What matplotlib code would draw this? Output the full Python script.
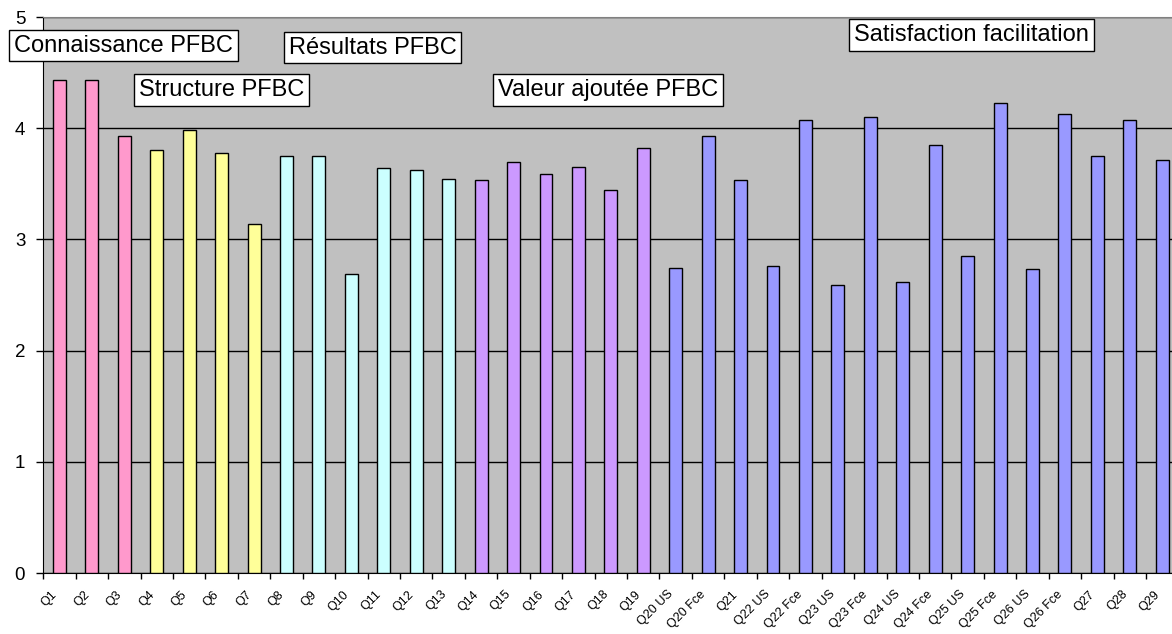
import matplotlib.pyplot as plt
import numpy as np

plt.rcParams['font.family'] = ['Liberation Sans', 'DejaVu Sans']

# questions and mean scores
questions = ['Q1', 'Q2', 'Q3', 'Q4', 'Q5', 'Q6', 'Q7', 'Q8', 'Q9', 'Q10',
             'Q11', 'Q12', 'Q13', 'Q14', 'Q15', 'Q16', 'Q17', 'Q18', 'Q19',
             'Q20 US', 'Q20 Fce', 'Q21', 'Q22 US', 'Q22 Fce', 'Q23 US',
             'Q23 Fce', 'Q24 US', 'Q24 Fce', 'Q25 US', 'Q25 Fce', 'Q26 US',
             'Q26 Fce', 'Q27', 'Q28', 'Q29']
scores = [4.43, 4.43, 3.93, 3.80, 3.98, 3.78, 3.14, 3.75, 3.75, 2.69,
          3.64, 3.62, 3.54, 3.53, 3.70, 3.59, 3.65, 3.44, 3.82,
          2.74, 3.93, 3.53, 2.76, 4.07, 2.59,
          4.10, 2.62, 3.85, 2.85, 4.23, 2.73,
          4.13, 3.75, 4.07, 3.71]

# themes: name, number of questions, colour
themes = ['Connaissance PFBC', 'Structure PFBC', 'Résultats PFBC',
          'Valeur ajoutée PFBC', 'Satisfaction facilitation']
theme_sizes = [3, 4, 6, 6, 16]
theme_colors = ['#FF99CC', '#FFFF99', '#CCFFFF', '#CC99FF', '#9999FF']

bar_colors = []
for c, n in zip(theme_colors, theme_sizes):
    bar_colors += [c] * n

W, H = 1172, 634
fig = plt.figure(figsize=(W / 100, H / 100), dpi=100)

# plot area in pixels (right edge runs slightly past the image)
x0, x1, ytop, ybot = 43.3, 1178.4, 17, 573
ax = fig.add_axes([x0 / W, (H - ybot) / H, (x1 - x0) / W, (ybot - ytop) / H])
ax.set_facecolor('#C0C0C0')

x = np.arange(len(questions))
ax.bar(x, scores, width=0.4, color=bar_colors, edgecolor='black',
       linewidth=1, zorder=3)

ax.set_xlim(-0.5, len(questions) - 0.5)
ax.set_ylim(0, 5)
ax.set_yticks([0, 1, 2, 3, 4, 5])
ax.yaxis.grid(True, color='black', linewidth=1, zorder=1)
ax.tick_params(axis='y', labelsize=13.5, length=5, width=1, pad=8)

ax.set_xticks(x)
ax.set_xticklabels(questions, rotation=45, ha='right', va='top', fontsize=9)
ax.set_xticks(np.arange(len(questions) + 1) - 0.5, minor=True)
ax.tick_params(axis='x', which='major', length=0, pad=11)
ax.tick_params(axis='x', which='minor', length=4, width=1)

ax.spines['left'].set_color('black')
ax.spines['bottom'].set_color('black')
ax.spines['top'].set_color('#808080')
ax.spines['right'].set_visible(False)

# theme boxes (left, top, right, bottom in pixels)
boxes = [(9, 29, 238, 62), (134, 73, 309, 107), (284, 31, 458, 64),
         (493, 73, 723, 107), (849, 18, 1093, 52)]
for name, (l, t, r, b) in zip(themes, boxes):
    fig.text((l + 5) / W, 1 - (t + b) / 2 / H, name, fontsize=17,
             ha='left', va='center',
             bbox=dict(boxstyle='square,pad=0.2', facecolor='white',
                       edgecolor='black', linewidth=1))

fig.savefig('out.png', dpi=100)
